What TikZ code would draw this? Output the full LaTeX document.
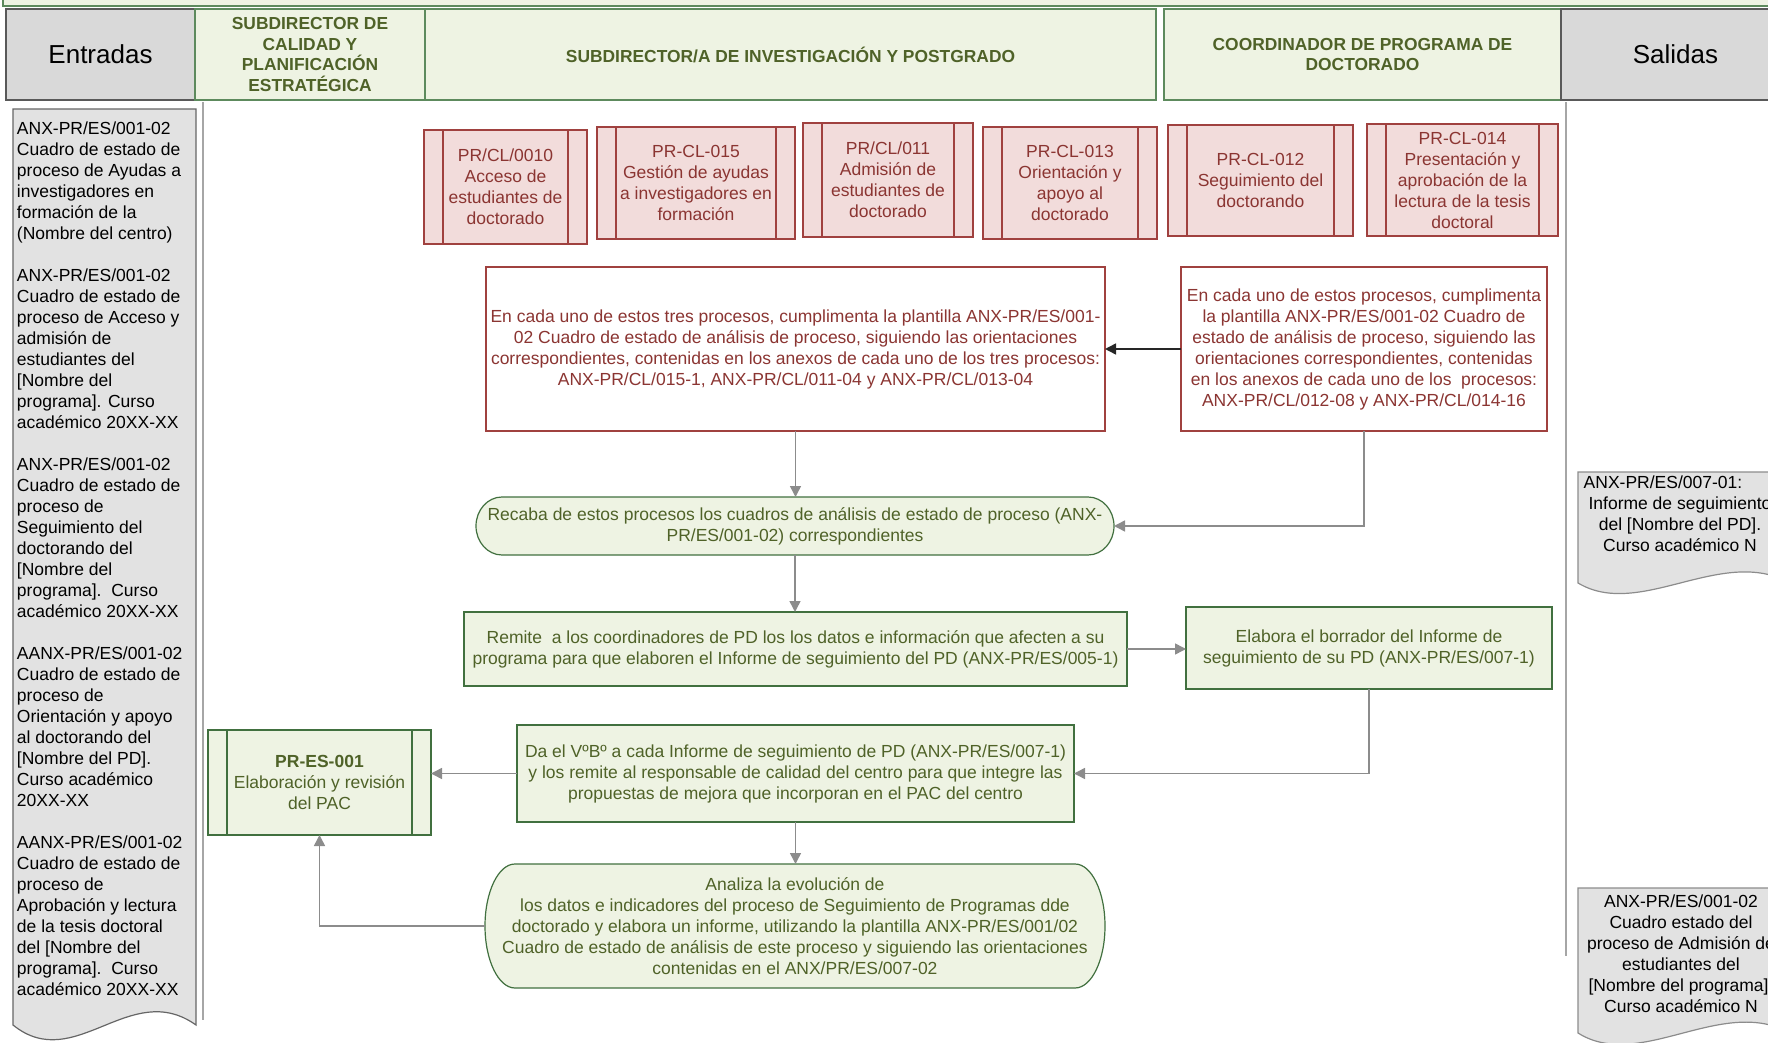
\documentclass[tikz,border=0pt]{standalone}
\usepackage{fontspec}
\setmainfont{Liberation Sans}
\usetikzlibrary{arrows.meta,shapes.misc}
\definecolor{hdrfill}{HTML}{EEF3E3}
\definecolor{hdrline}{HTML}{5D8A5D}
\definecolor{grntxt}{HTML}{4F6228}
\definecolor{grnline}{HTML}{41703F}
\definecolor{greyfill}{HTML}{D9D9D9}
\definecolor{docfill}{HTML}{E2E2E2}
\definecolor{redfill}{HTML}{F2DCDB}
\definecolor{redline}{HTML}{A0413F}
\definecolor{redtxt}{HTML}{8B3532}
\definecolor{conngrey}{HTML}{8C8C8C}
\newcommand\bodyfont{\fontsize{8.75pt}{10.5pt}\selectfont}
\newcommand\hdrfont{\fontsize{8.7pt}{10.45pt}\selectfont\bfseries}
\begin{document}
\begin{tikzpicture}[x=0.5pt,y=-0.5pt,
 every node/.style={inner sep=0pt, outer sep=0pt, align=center},
 lanehdr/.style={rectangle, draw=hdrline, line width=0.8pt, fill=hdrfill, text=grntxt, font=\hdrfont},
 greyhdr/.style={rectangle, draw=black!65, line width=0.8pt, fill=greyfill, font=\fontsize{13pt}{15pt}\selectfont},
 subproc/.style={path picture={\draw[#1, line width=0.6pt]
   ([xshift=9.5pt]path picture bounding box.north west) -- ([xshift=9.5pt]path picture bounding box.south west)
   ([xshift=-9.5pt]path picture bounding box.north east) -- ([xshift=-9.5pt]path picture bounding box.south east);}},
 redsub/.style={rectangle, draw=redline, line width=0.6pt, fill=redfill, text=redtxt, font=\bodyfont, subproc=redline},
 redtext/.style={rectangle, draw=redline, line width=0.6pt, fill=white, text=redtxt, font=\bodyfont},
 grnbox/.style={rectangle, draw=grnline, line width=0.6pt, fill=hdrfill, text=grntxt, font=\bodyfont},
 grnsub/.style={grnbox, subproc=grnline},
 termbox/.style={rectangle},
 termshape/.style={draw=grnline, line width=0.6pt, fill=hdrfill},
 grntext/.style={text=grntxt, font=\bodyfont},
 docshape/.style={draw=black!60, line width=0.6pt, fill=docfill},
 doctext/.style={font=\bodyfont, text=black},
 lanesep/.style={draw=black!35, line width=0.6pt},
 conn/.style={draw=conngrey, line width=0.75pt, -{Triangle[length=5.5pt,width=5.5pt]}},
 blkconn/.style={draw=black!85, line width=0.75pt, -{Triangle[length=5.5pt,width=5.5pt]}}
]
\useasboundingbox (0,0) rectangle (1768,1043);
\clip (0,0) rectangle (1768,1043);

% top band
\draw[hdrline, line width=0.8pt, fill=hdrfill] (3,-10) rectangle (1780,6);

% header row
\node[greyhdr, minimum width=94.5pt, minimum height=45.5pt] (hin) at (100.5,54.5) {Entradas};
\node[lanehdr, minimum width=115pt, minimum height=45.5pt] (hsc) at (310,54.5) {SUBDIRECTOR DE\\CALIDAD Y\\PLANIFICACIÓN\\ESTRATÉGICA};
\node[lanehdr, minimum width=365.5pt, minimum height=45.5pt] (hsi) at (790.5,54.5) {SUBDIRECTOR/A DE INVESTIGACIÓN Y POSTGRADO};
\node[lanehdr, minimum width=198.5pt, minimum height=45.5pt] (hco) at (1362.5,54.5) {COORDINADOR DE PROGRAMA DE\\DOCTORADO};
\node[greyhdr, minimum width=114.5pt, minimum height=45.5pt] (hout) at (1675.5,54.5) {Salidas};

% lane separators
\draw[lanesep] (203,102) -- (203,1020);
\draw[lanesep] (1566,102) -- (1566,956);

% entradas document
\path[docshape] (13,109) -- (196,109) -- (196,1025) .. controls (130,978) and (75,1075) .. (13,1025) -- cycle;
\node[doctext, anchor=west, align=left] (intext) at (17,559) {ANX-PR/ES/001-02\\Cuadro de estado de\\proceso de Ayudas a\\investigadores en\\formación de la\\(Nombre del centro)\\[10.5pt]
ANX-PR/ES/001-02\\Cuadro de estado de\\proceso de Acceso y\\admisión de\\estudiantes del\\{[}Nombre del\\programa]. Curso\\académico 20XX-XX\\[10.5pt]
ANX-PR/ES/001-02\\Cuadro de estado de\\proceso de\\Seguimiento del\\doctorando del\\{[}Nombre del\\programa].\ \ Curso\\académico 20XX-XX\\[10.5pt]
AANX-PR/ES/001-02\\Cuadro de estado de\\proceso de\\Orientación y apoyo\\al doctorando del\\{[}Nombre del PD].\\Curso académico\\20XX-XX\\[10.5pt]
AANX-PR/ES/001-02\\Cuadro de estado de\\proceso de\\Aprobación y lectura\\de la tesis doctoral\\del [Nombre del\\programa].\ \ Curso\\académico 20XX-XX};

% salidas documents
\path[docshape, draw=black!45] (1578,472) -- (1790,472) -- (1790,583) .. controls (1722,545) and (1640,620) .. (1578,583) -- cycle;
\node[doctext] (out1) at (1680,514) {ANX-PR/ES/007-01:\hspace*{17pt}\\Informe de seguimiento\\del [Nombre del PD].\\Curso académico N};
\path[docshape, draw=black!45] (1578,888) -- (1790,888) -- (1790,1033) .. controls (1722,995) and (1640,1072) .. (1578,1033) -- cycle;
\node[doctext] (out2) at (1681,953.5) {ANX-PR/ES/001-02\\Cuadro estado del\\proceso de Admisión de\\estudiantes del\\{[}Nombre del programa].\\Curso académico N};

% red subprocesses
\node[redsub, minimum width=81.5pt, minimum height=57pt] (p10) at (505.5,187) {PR/CL/0010\\Acceso de\\estudiantes de\\doctorado};
\node[redsub, minimum width=99pt, minimum height=56pt] (p15) at (696,183) {PR-CL-015\\Gestión de ayudas\\a investigadores en\\formación};
\node[redsub, minimum width=85pt, minimum height=57pt] (p11) at (888,180) {PR/CL/011\\Admisión de\\estudiantes de\\doctorado};
\node[redsub, minimum width=87pt, minimum height=56pt] (p13) at (1070,183) {PR-CL-013\\Orientación y\\apoyo al\\doctorado};
\node[redsub, minimum width=92.5pt, minimum height=55.5pt] (p12) at (1260.5,180.5) {PR-CL-012\\Seguimiento del\\doctorando};
\node[redsub, minimum width=95.5pt, minimum height=56pt] (p14) at (1462.5,180) {PR-CL-014\\Presentación y\\aprobación de la\\lectura de la tesis\\doctoral};

% red text boxes
\node[redtext, minimum width=309.5pt, minimum height=82pt] (rtl) at (795.5,349) {En cada uno de estos tres procesos, cumplimenta la plantilla ANX-PR/ES/001-\\02 Cuadro de estado de análisis de proceso, siguiendo las orientaciones\\correspondientes, contenidas en los anexos de cada uno de los tres procesos:\\ANX-PR/CL/015-1, ANX-PR/CL/011-04 y ANX-PR/CL/013-04};
\node[redtext, minimum width=183pt, minimum height=82pt] (rtr) at (1364,349) {En cada uno de estos procesos, cumplimenta\\la plantilla ANX-PR/ES/001-02 Cuadro de\\estado de análisis de proceso, siguiendo las\\orientaciones correspondientes, contenidas\\en los anexos de cada uno de los\ \ procesos:\\ANX-PR/CL/012-08 y ANX-PR/CL/014-16};

% green flow: terminator "Recaba"
\node[termbox, minimum width=319pt, minimum height=29pt] (recaba) at (795,526) {};
\path[termshape] ([xshift=13pt]recaba.north west) -- ([xshift=-13pt]recaba.north east)
  arc[start angle=90, end angle=-90, x radius=13pt, y radius=14.5pt]
  -- ([xshift=13pt]recaba.south west)
  arc[start angle=270, end angle=90, x radius=13pt, y radius=14.5pt] -- cycle;
\node[grntext] (recabaT) at (recaba.center) {Recaba de estos procesos los cuadros de análisis de estado de proceso (ANX-\\PR/ES/001-02) correspondientes};

\node[grnbox, minimum width=331.5pt, minimum height=37pt] (remite) at (795.5,649) {Remite\ \ a los coordinadores de PD los los datos e información que afecten a su\\programa para que elaboren el Informe de seguimiento del PD (ANX-PR/ES/005-1)};
\node[grnbox, minimum width=183pt, minimum height=41pt] (elabora) at (1369,648) {Elabora el borrador del Informe de\\seguimiento de su PD (ANX-PR/ES/007-1)};
\node[grnbox, minimum width=278.5pt, minimum height=48.5pt] (da) at (795.5,773.5) {Da el VºBº a cada Informe de seguimiento de PD (ANX-PR/ES/007-1)\\y los remite al responsable de calidad del centro para que integre las\\propuestas de mejora que incorporan en el PAC del centro};
\node[grnsub, minimum width=111.5pt, minimum height=52.5pt] (pac) at (319.5,782.5) {\textbf{PR-ES-001}\\Elaboración y revisión\\del PAC};

% terminator "Analiza"
\node[termbox, minimum width=310pt, minimum height=62pt] (analiza) at (795,926) {};
\path[termshape] ([xshift=15pt]analiza.north west) -- ([xshift=-15pt]analiza.north east)
  arc[start angle=90, end angle=-90, x radius=15pt, y radius=31pt]
  -- ([xshift=15pt]analiza.south west)
  arc[start angle=270, end angle=90, x radius=15pt, y radius=31pt] -- cycle;
\node[grntext] (analizaT) at (analiza.center) {Analiza la evolución de\\los datos e indicadores del proceso de Seguimiento de Programas dde\\doctorado y elabora un informe, utilizando la plantilla ANX-PR/ES/001/02\\Cuadro de estado de análisis de este proceso y siguiendo las orientaciones\\contenidas en el ANX/PR/ES/007-02};

% connectors
\draw[blkconn] (rtr.west) -- (rtl.east);
\draw[conn] (rtl.south) -- (rtl.south |- recaba.north);
\draw[conn] (rtr.south) |- (recaba.east);
\draw[conn] (recaba.south) -- (recaba.south |- remite.north);
\draw[conn] (remite.east) -- (remite.east -| elabora.west);
\draw[conn] (elabora.south) |- (da.east);
\draw[conn] (da.west) -- (da.west -| pac.east);
\draw[conn] (da.south) -- (da.south |- analiza.north);
\draw[conn] (analiza.west) -| (pac.south);
\end{tikzpicture}
\end{document}
